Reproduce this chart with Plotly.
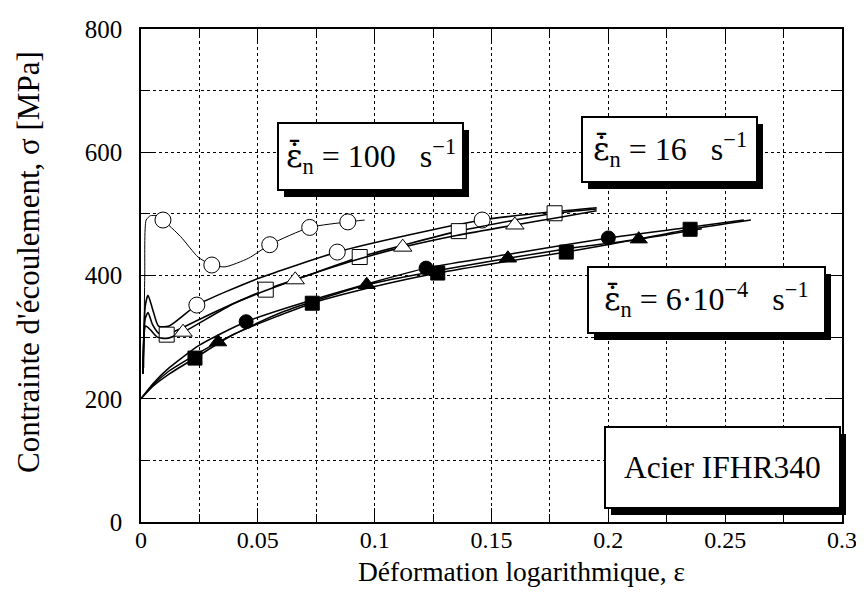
import plotly.graph_objects as go

# ---------------- data ----------------
# strain rate 6e-4 s^-1 (filled markers)
sq6_x = [0, 0.005, 0.012, 0.0231, 0.04, 0.0733, 0.1, 0.127, 0.155, 0.182, 0.21, 0.235, 0.261]
sq6_y = [200, 220, 240, 266, 305, 355, 382, 404, 422, 438, 457, 475, 490]
sq6_mx = [0.0231, 0.0733, 0.127, 0.182, 0.235]
sq6_my = [266, 355, 404, 438, 475]

tr6_x = [0, 0.005, 0.012, 0.02, 0.033, 0.06, 0.0966, 0.13, 0.157, 0.185, 0.213, 0.24]
tr6_y = [200, 222, 245, 264, 292, 340, 385, 410, 428, 445, 459, 476]
tr6_mx = [0.033, 0.0966, 0.157, 0.213]
tr6_my = [292, 385, 428, 459]

ci6_x = [0, 0.005, 0.012, 0.025, 0.045, 0.08, 0.122, 0.16, 0.2, 0.23, 0.258]
ci6_y = [200, 224, 250, 287, 325, 368, 412, 436, 461, 476, 490]
ci6_mx = [0.045, 0.122, 0.2]
ci6_my = [325, 412, 461]

# strain rate 16 s^-1 (open markers)
ci16_x = [0.0008, 0.0018, 0.003, 0.005, 0.0075, 0.012, 0.0239, 0.05, 0.084, 0.115, 0.146, 0.175, 0.195]
ci16_y = [240, 350, 368, 345, 318, 318, 352, 395, 438, 466, 490, 503, 510]
ci16_mx = [0.0239, 0.084, 0.146]
ci16_my = [352, 438, 490]

sq16_x = [0.0008, 0.0018, 0.003, 0.005, 0.008, 0.011, 0.03, 0.0534, 0.075, 0.0936, 0.115, 0.136, 0.16, 0.177, 0.195]
sq16_y = [240, 330, 340, 320, 305, 304, 338, 377, 405, 430, 452, 472, 490, 501, 508]
sq16_mx = [0.011, 0.0534, 0.0936, 0.136, 0.177]
sq16_my = [304, 377, 430, 472, 501]

tr16_x = [0.0008, 0.002, 0.004, 0.007, 0.011, 0.018, 0.04, 0.066, 0.09, 0.112, 0.135, 0.16, 0.18, 0.195]
tr16_y = [240, 318, 312, 300, 298, 308, 355, 393, 423, 446, 465, 482, 495, 505]
tr16_mx = [0.018, 0.066, 0.112, 0.16]
tr16_my = [308, 393, 446, 482]

# strain rate 100 s^-1 (open circles)
ci100_x = [0.0012, 0.0016, 0.0022, 0.004, 0.0065, 0.0094, 0.017, 0.0244, 0.0303, 0.036, 0.046, 0.0551, 0.0722, 0.0885, 0.0957]
ci100_y = [250, 400, 490, 497, 497, 490, 463, 430, 417, 414, 428, 450, 478, 487, 490]
ci100_mx = [0.0094, 0.0303, 0.0551, 0.0722, 0.0885]
ci100_my = [490, 417, 450, 478, 487]

x_ticks = [0, 0.05, 0.1, 0.15, 0.2, 0.25, 0.3]
x_tick_text = ["0", "0.05", "0.1", "0.15", "0.2", "0.25", "0.3"]
y_ticks = [0, 200, 400, 600, 800]
y_tick_text = ["0", "200", "400", "600", "800"]

EPS = "<span style=\"font-family:'DejaVu Serif'\">\u03b5\u0307\u0304</span>"
labels = {
    "r100": EPS + "<sub>n</sub> = 100\u2002 s<sup>\u22121</sup>",
    "r16": EPS + "<sub>n</sub> = 16\u2002 s<sup>\u22121</sup>",
    "r6": EPS + "<sub>n</sub> = 6\u00b710<sup>\u22124</sup>\u2002 s<sup>\u22121</sup>",
    "mat": "Acier IFHR340",
}
x_title = "Déformation logarithmique, \u03b5"
y_title = "Contrainte d'écoulement, \u03c3 [MPa]"

# ---------------- figure ----------------
FONT = "Liberation Serif"
PAGE = 8                      # default body margin of the html page
W, H = 864 - 2 * PAGE, 596 - 2 * PAGE
L, R, T, B = 141, 842, 29, 522   # plot area in page pixels


def px(xp):
    return (xp - L) / (R - L)


def py(yp):
    return (B - yp) / (B - T)


fig = go.Figure()


def add_curve(x, y, mx, my, symbol, filled, lw, msize):
    fig.add_trace(go.Scatter(x=x, y=y, mode="lines",
                             line=dict(color="black", width=lw, shape="spline", smoothing=0.6),
                             showlegend=False, hoverinfo="skip"))
    fig.add_trace(go.Scatter(x=mx, y=my, mode="markers",
                             marker=dict(symbol=symbol, size=msize,
                                         color="black" if filled else "white",
                                         line=dict(color="black", width=1)),
                             showlegend=False))


add_curve(ci100_x, ci100_y, ci100_mx, ci100_my, "circle", False, 1.0, 16)
add_curve(ci16_x, ci16_y, ci16_mx, ci16_my, "circle", False, 1.6, 16)
add_curve(sq16_x, sq16_y, sq16_mx, sq16_my, "square", False, 1.6, 15)
add_curve(tr16_x, tr16_y, tr16_mx, tr16_my, "triangle-up", False, 1.6, 16)
add_curve(ci6_x, ci6_y, ci6_mx, ci6_my, "circle", True, 1.5, 14)
add_curve(sq6_x, sq6_y, sq6_mx, sq6_my, "square", True, 1.5, 14)
add_curve(tr6_x, tr6_y, tr6_mx, tr6_my, "triangle-up", True, 1.5, 15)

# boxes with drop shadow: (left, top, right, bottom) in page pixels, text key, font size
boxes = [
    ((278, 123, 463, 190), "r100", 32),
    ((582, 117, 757, 182), "r16", 32),
    ((588, 267, 825, 333), "r6", 32),
    ((605, 427, 840, 508), "mat", 31.5),
]
shapes = []
annotations = []
for (l, t, r, b), key, fs in boxes:
    shapes.append(dict(type="rect", xref="paper", yref="paper",
                       x0=px(l + 6), x1=px(r + 6), y0=py(b + 7), y1=py(t + 7),
                       fillcolor="black", line=dict(width=0), layer="above"))
    shapes.append(dict(type="rect", xref="paper", yref="paper",
                       x0=px(l), x1=px(r), y0=py(b), y1=py(t),
                       fillcolor="white", line=dict(color="black", width=2), layer="above"))
    annotations.append(dict(xref="paper", yref="paper", x=px((l + r) / 2), y=py((t + b) / 2),
                            text=labels[key], showarrow=False, xanchor="center", yanchor="middle",
                            font=dict(family=FONT, size=fs, color="black")))

annotations.append(dict(xref="paper", yref="paper", x=px(521), y=py(571), text=x_title, showarrow=False,
                        xanchor="center", yanchor="middle", font=dict(family=FONT, size=27.5, color="black")))
annotations.append(dict(xref="paper", yref="paper", x=px(29), y=py(262), text=y_title, showarrow=False,
                        textangle=-90, xanchor="center", yanchor="middle",
                        font=dict(family=FONT, size=31, color="black")))

axis_common = dict(showline=True, linecolor="black", linewidth=1.5, mirror="ticks",
                   ticks="inside", tickcolor="black", ticklen=14, tickwidth=1,
                   showgrid=True, gridcolor="black", griddash="dot", gridwidth=1,
                   zeroline=False, ticklabeloverflow="allow")

fig.update_xaxes(range=[0, 0.3], tickvals=x_ticks, ticktext=x_tick_text,
                 tickfont=dict(family=FONT, size=24, color="black"),
                 minor=dict(dtick=0.025, tick0=0, ticks="inside", ticklen=8, tickcolor="black",
                            showgrid=True, gridcolor="black", griddash="dot", gridwidth=1),
                 ticklabelstandoff=-5, **axis_common)
fig.update_yaxes(range=[0, 800], tickvals=y_ticks, ticktext=y_tick_text,
                 tickfont=dict(family=FONT, size=25, color="black"),
                 minor=dict(dtick=100, tick0=0, ticks="inside", ticklen=8, tickcolor="black",
                            showgrid=True, gridcolor="black", griddash="dot", gridwidth=1),
                 ticklabelstandoff=12, **axis_common)

fig.update_layout(width=W, height=H,
                  margin=dict(l=L - PAGE, r=W - (R - PAGE), t=T - PAGE, b=H - (B - PAGE), autoexpand=False),
                  plot_bgcolor="white", paper_bgcolor="white",
                  shapes=shapes, annotations=annotations,
                  font=dict(family=FONT, color="black"))

fig.write_html("out.html")
